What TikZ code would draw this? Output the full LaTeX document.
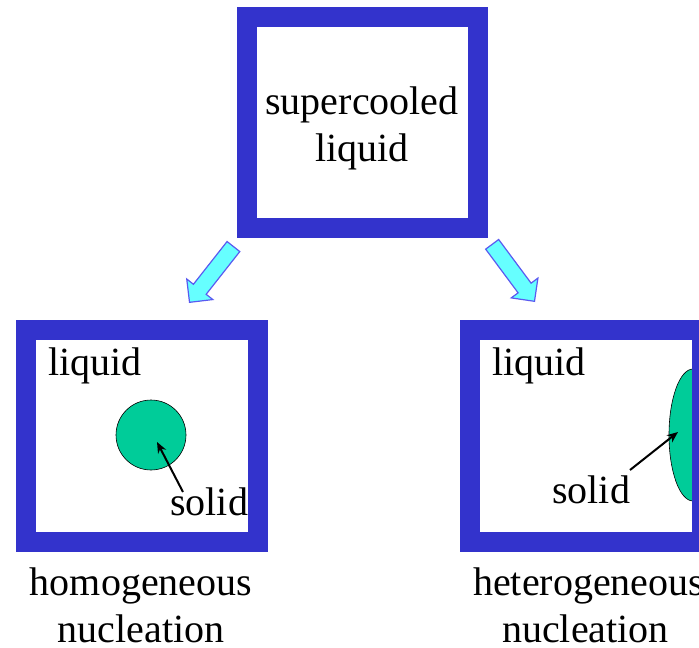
\documentclass[tikz,border=0pt]{standalone}
\usepackage{fontspec}
\setmainfont{Liberation Serif}
\usetikzlibrary{shapes.arrows,shapes.geometric,arrows.meta}
\definecolor{frameblue}{HTML}{3333CC}
\definecolor{solidgreen}{HTML}{00CC99}
\definecolor{arrowcyan}{HTML}{66FFFF}
\definecolor{arrowedge}{HTML}{5A5AF0}
\tikzset{
  frame/.style={draw=frameblue, line width=20pt, minimum width=232pt, minimum height=212pt, inner sep=0pt},
  word/.style={font=\fontsize{40}{47}\selectfont, inner sep=0pt, text=black},
  blockarrow/.style={single arrow, fill=arrowcyan, draw=arrowedge, line width=1.2pt,
    inner xsep=0pt, inner ysep=7.5pt, single arrow head extend=8.5pt,
    single arrow tip angle=90, minimum height=71pt, anchor=tip},
  pointer/.style={draw=black, line width=2pt, -{Stealth[length=11pt,width=9pt]}},
}
\begin{document}
\begin{tikzpicture}[x=1pt, y=-1pt]
\useasboundingbox (0,0) rectangle (699,648);

% solid nuclei (drawn first so the right frame covers the wall side)
\node[circle, fill=solidgreen, draw=black, line width=0.6pt, minimum size=70pt, inner sep=0pt] (nucA) at (151,435) {};
\node[ellipse, fill=solidgreen, draw=black, line width=0.6pt, minimum width=48pt, minimum height=132pt, inner sep=0pt] (nucB) at (693,435) {};

% frames
\node[frame, minimum width=231pt, minimum height=211pt] (top) at (362.5,122.5) {};
\node[frame] (homo) at (141.5,435.5) {};
\node[frame] (hetero) at (586,435.5) {};

% top label
\node[word, align=center] (toptext) at (362,128) {supercooled\\liquid};

% labels inside frames
\node[word, anchor=base west] (liqA) at (48,375) {liquid};
\node[word, anchor=base west] (solA) at (170,515) {solid};
\node[word, anchor=base west] (liqB) at (492,375) {liquid};
\node[word, anchor=base west] (solB) at (552,503) {solid};

% captions
\node[word, anchor=base] (capA1) at (141,595) {homogeneous};
\node[word, anchor=base] (capA2) at (141,642) {nucleation};
\node[word, anchor=base west] (capB1) at (473,595) {heterogeneous};
\node[word, anchor=base] (capB2) at (585.5,642) {nucleation};

% pointers to the nuclei
\coordinate (pA) at (183,492);
\coordinate (pAend) at (157,442);
\coordinate (pB) at (630,470);
\coordinate (pBend) at (678,432);
\draw[pointer] (pA) -- (pAend);
\draw[pointer] (pB) -- (pBend);

% block arrows between the frames
\node[blockarrow, rotate=231.8] (arrL) at (189,303) {};
\node[blockarrow, rotate=-53.4] (arrR) at (535,302) {};
\end{tikzpicture}
\end{document}
